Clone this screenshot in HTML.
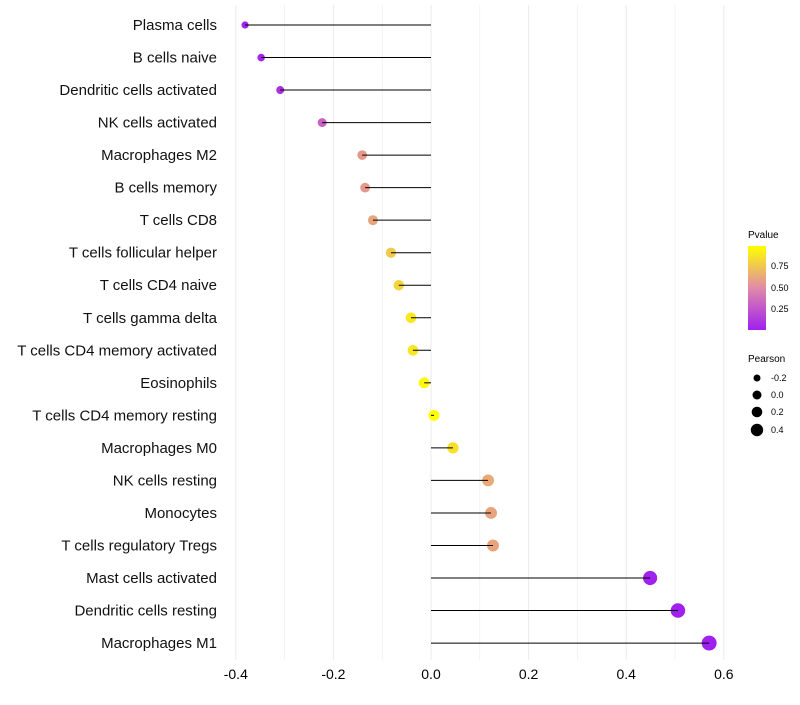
<!DOCTYPE html>
<html><head><meta charset="utf-8"><style>
body{margin:0;background:#fff;font-family:"Liberation Sans",sans-serif}
</style></head><body>
<svg id="chart" width="800" height="700" xmlns="http://www.w3.org/2000/svg">
<defs><linearGradient id="pg" x1="0" y1="1" x2="0" y2="0">
<stop offset="0" stop-color="#A020F0"/><stop offset="0.5" stop-color="#E08AA8"/><stop offset="1" stop-color="#FFFF00"/></linearGradient></defs>
<g id="grid"></g><g id="marks"></g><g id="labels"></g>
<g font-size="9">
<text x="748" y="238" font-size="10">Pvalue</text>
<rect x="748" y="246" width="18" height="84" fill="url(#pg)"/>
<text x="771" y="269">0.75</text><text x="771" y="291">0.50</text><text x="771" y="312">0.25</text>
</g>
<g font-size="9">
<text x="748" y="362" font-size="10">Pearson</text>
<circle cx="757" cy="378" r="3.5"/><text x="771" y="381">-0.2</text>
<circle cx="757" cy="395" r="4.5"/><text x="771" y="398">0.0</text>
<circle cx="757" cy="412" r="5.3"/><text x="771" y="415">0.2</text>
<circle cx="757" cy="430" r="6.2"/><text x="771" y="433">0.4</text>
</g>
</svg>
<script>
const cells=["Plasma cells","B cells naive","Dendritic cells activated","NK cells activated","Macrophages M2","B cells memory","T cells CD8","T cells follicular helper","T cells CD4 naive","T cells gamma delta","T cells CD4 memory activated","Eosinophils","T cells CD4 memory resting","Macrophages M0","NK cells resting","Monocytes","T cells regulatory  Tregs","Mast cells activated","Dendritic cells resting","Macrophages M1"];
const pearson=[-0.381,-0.348,-0.309,-0.223,-0.141,-0.135,-0.119,-0.082,-0.066,-0.041,-0.037,-0.014,0.006,0.045,0.117,0.123,0.127,0.449,0.506,0.570];
const pvalue=[0.01,0.03,0.08,0.3,0.55,0.55,0.6,0.75,0.8,0.88,0.87,0.95,0.98,0.85,0.62,0.6,0.6,0.01,0.005,0.001];
const xTicks=[-0.4,-0.2,0,0.2,0.4,0.6];
const xTickLabels=["-0.4","-0.2","0.0","0.2","0.4","0.6"];
const NS="http://www.w3.org/2000/svg";
const x=v=>431+v*488;
const y=i=>25+i*32.53;
const r=v=>Math.sqrt(Math.max(4,30+45*v));
function lerp(a,b,t){return a.map((c,k)=>Math.round(c+(b[k]-c)*t));}
function col(p){const t=Math.max(0,Math.min(1,(p-0.006)/0.974));const lo=[160,32,240],mid=[226,140,160],hi=[255,255,0];
const c=t<0.5?lerp(lo,mid,t*2):lerp(mid,hi,(t-0.5)*2);return `rgb(${c})`;}
function mk(tag,attrs,parent){const e=document.createElementNS(NS,tag);for(const k in attrs)e.setAttribute(k,attrs[k]);parent.appendChild(e);return e;}
const grid=document.getElementById('grid'),marks=document.getElementById('marks'),labels=document.getElementById('labels');
for(let v=-0.4;v<=0.65;v+=0.1){const g=mk('line',{x1:x(v),x2:x(v),y1:5,y2:660,stroke:'#ebebeb','stroke-width':Math.abs(Math.round(v*10))%2===0?1:0.6},grid);

}
xTicks.forEach((v,i)=>{const t=mk('text',{x:x(v),y:679,'text-anchor':'middle','font-size':14,fill:'#000'},labels);t.textContent=xTickLabels[i];

});
cells.forEach((c,i)=>{
const t=mk('text',{x:217,y:y(i)+5,'text-anchor':'end','font-size':15,fill:'#111'},labels);t.textContent=c;


const pt=mk('circle',{cx:x(pearson[i]),cy:y(i),r:r(pearson[i]),fill:col(pvalue[i])},marks);


const ln=mk('line',{x1:x(0),x2:x(pearson[i]),y1:y(i),y2:y(i),stroke:'#000','stroke-width':1},marks);


});
</script>
</body></html>
